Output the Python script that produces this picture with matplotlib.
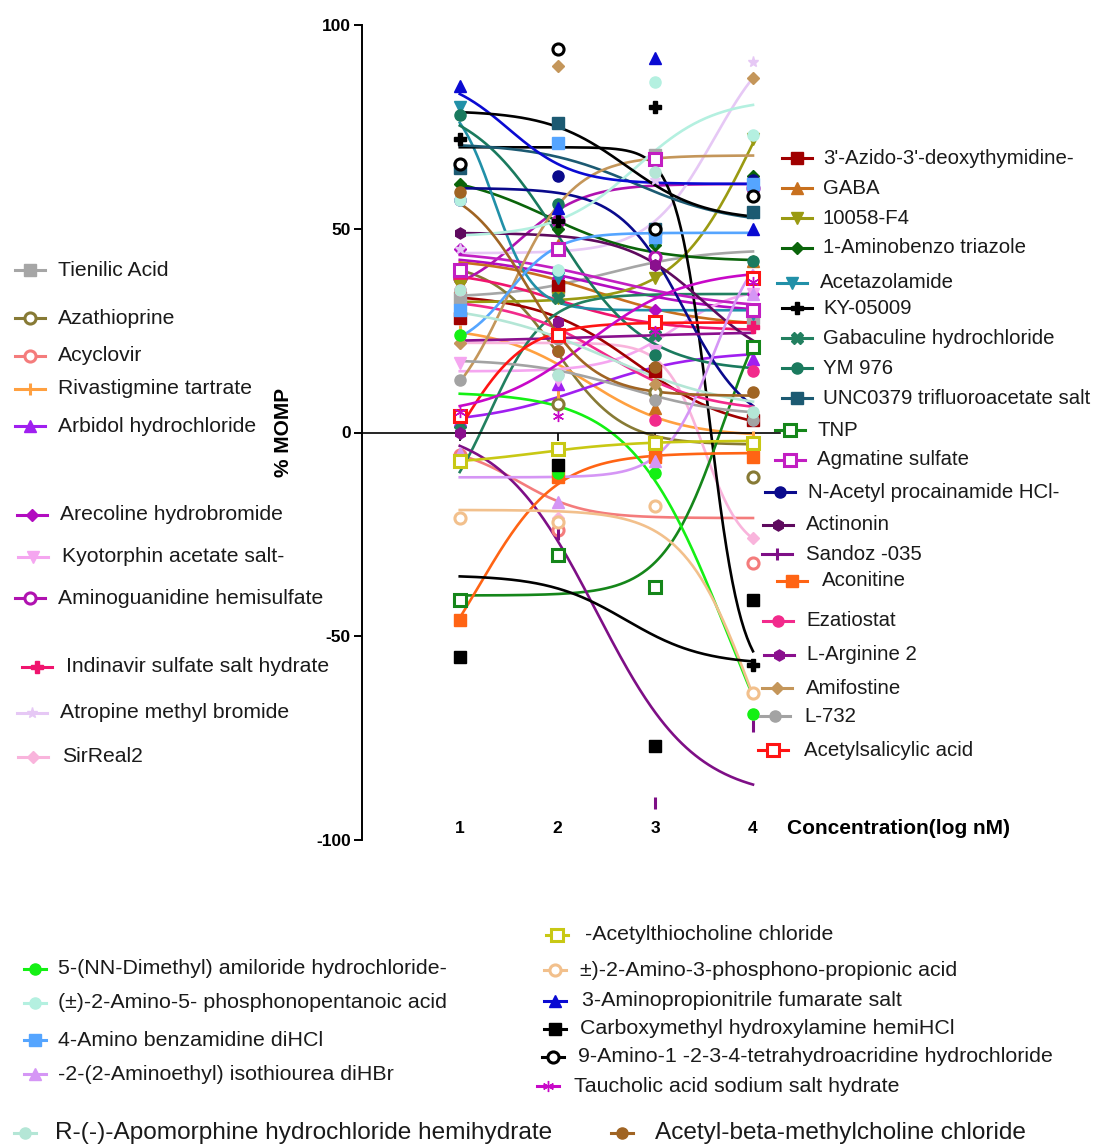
import numpy as np
import matplotlib.pyplot as plt
from matplotlib.lines import Line2D

plt.rcParams['font.family'] = ['Liberation Sans', 'DejaVu Sans']
plt.rcParams['axes.unicode_minus'] = False

# concentrations (log nM)
conc = [1, 2, 3, 4]

names = [
    'Tienilic Acid', 'Azathioprine', 'Acyclovir', 'Rivastigmine tartrate',
    'Arbidol hydrochloride', 'Arecoline hydrobromide', 'Kyotorphin acetate salt-',
    'Aminoguanidine hemisulfate', 'Indinavir sulfate salt hydrate',
    'Atropine methyl bromide', 'SirReal2',
    "3'-Azido-3'-deoxythymidine-", 'GABA', '10058-F4', '1-Aminobenzo triazole',
    'Acetazolamide', 'KY-05009', 'Gabaculine hydrochloride', 'YM 976',
    'UNC0379 trifluoroacetate salt', 'TNP', 'Agmatine sulfate',
    'N-Acetyl procainamide HCl-', 'Actinonin', 'Sandoz -035', 'Aconitine',
    'Ezatiostat', 'L-Arginine 2', 'Amifostine', 'L-732', 'Acetylsalicylic acid',
    '5-(NN-Dimethyl) amiloride hydrochloride-',
    '(±)-2-Amino-5- phosphonopentanoic acid', '4-Amino benzamidine diHCl',
    '-2-(2-Aminoethyl) isothiourea diHBr',
    '-Acetylthiocholine chloride', '±)-2-Amino-3-phosphono-propionic acid',
    '3-Aminopropionitrile fumarate salt', 'Carboxymethyl hydroxylamine hemiHCl',
    '9-Amino-1 -2-3-4-tetrahydroacridine hydrochloride',
    'Taucholic acid sodium salt hydrate',
    'R-(-)-Apomorphine hydrochloride hemihydrate',
    'Acetyl-beta-methylcholine chloride',
]

colors = [
    '#a6a6a6', '#877a35', '#f47c7c', '#ffa040', '#a01ff0', '#b20cc0', '#f5a6f0',
    '#b012b0', '#f0146e', '#e6c8f5', '#f9b4dc',
    '#a00000', '#c8701e', '#9a9a12', '#0a640a', '#2190a8', '#000000', '#228060',
    '#1a7a5e', '#1c5a72', '#15861a', '#c21ec2', '#0a0a8c', '#5e0a5e', '#7e0f86',
    '#ff6414', '#f22a8c', '#8a108e', '#c4965a', '#a3a3a3', '#ff1414',
    '#14f014', '#b4f0e0', '#55a5ff', '#d596f5',
    '#c8c814', '#f2c08c', '#0a0ad2', '#000000', '#000000', '#c808c8',
    '#b4e6d6', '#a06423',
]

markers = [
    's', 'o', 'o', '|', '^', 'D', 'v', 'o', 'P', '*', 'D',
    's', '^', 'v', 'D', 'v', 'P', 'X', 'o', 's', 's', 's', 'o', 'h', '|',
    's', 'o', 'h', 'D', 'o', 's',
    'o', 'o', 's', '^',
    's', 'o', '^', 's', 'o', (6, 2, 0),
    'o', 'o',
]

hollow = [
    False, True, True, False, False, False, False, True, False, False, False,
    False, False, False, False, False, False, False, False, False, True, True,
    False, False, False, False, False, False, False, False, True,
    False, False, False, False,
    True, True, False, False, True, False,
    False, False,
]

# % MOMP at each concentration
momp = [
    [33, 35, 68, 28], [38, 7, 10, -11], [-5.5, -24, -6, -32], [25, 10, -2, -1],
    [3, 12, 16, 18], [45, 38, 30, 34], [17, 13, 20, 34], [38, 52, 43, 60],
    [38, 24, 27, 26], [45, 40, 62, 91], [22, -21, 8, -26],
    [28, 36, 15, 3], [36, 46, 6, 42], [36, 33, 38, 72], [61, 50, 46, 63],
    [80, 38, 47, 29], [72, 52, 80, -57], [2, 33, 24, 30], [78, 56, 19, 42],
    [65, 76, 50, 54], [-41, -30, -38, 21], [40, 45, 67, 30], [57, 63, 50, 62],
    [49, 27, 41, 3], [0, -25, -91, -72], [-46, -11, -6, -6], [35, 20, 3, 15],
    [0, 27, 41, 3], [22, 90, 12, 87], [13, 23, 8, 3], [4, 24, 27, 38],
    [24, -10, -10, -69], [57, 40, 86, 73], [30, 71, 48, 61], [-5, -17, -7, 34],
    [-7, -4, -2.5, -2.5], [-21, -22, -18, -64], [85, 55, 92, 50],
    [-55, -8, -77, -41], [66, 94, 50, 58], [5, 4, 25, 37],
    [35, 14, 64, 5], [59, 20, 16, 10],
]

# sigmoidal fit per compound: low-dose plateau, high-dose plateau, midpoint, slope
fit_left = [33, 42, -3, 26, 2, 44, 15, 33, 40, 44, 22,
            34, 43, 32, 64, 84, 70, -25, 82, 71, -40, 45, 60, 49, 2, -70, 33, 22, 0, 18, -25,
            10, 48, 20, -11, -8, -19, 88, -35, 79, 4, 32, 62]
fit_right = [45, -3, -21, -1, 20, 29, 36, 61, 25, 100, -30,
             0, 26, 110, 42, 30, -62, 34, 15, 51, 45, 30, 0, 15, -90, -5, 5, 25, 68, 4, 27,
             -110, 82, 49, 50, -2, -110, 61, -57, 52, 40, 5, 9]
fit_mid = [2.5, 2.0, 1.6, 2.3, 2.3, 2.4, 3.2, 1.6, 2.0, 3.6, 3.5,
           2.8, 2.4, 4.0, 1.9, 1.35, 3.55, 1.3, 2.0, 2.8, 3.7, 2.5, 3.3, 3.5, 2.4, 1.2, 2.5, 2.5,
           1.5, 2.7, 1.0, 3.75, 2.8, 1.5, 3.6, 1.8, 4.0, 1.5, 2.7, 2.7, 2.3, 2.5, 1.7]
fit_slope = [2, 3, 3, 2.2, 1.8, 1.5, 3, 3, 2, 3, 5,
             2, 1.8, 2.5, 2, 5, 6, 3.5, 2.2, 2, 3.2, 1.5, 3, 2.5, 2, 2.5, 2, 1, 3, 2, 3,
             2, 2.5, 4, 4, 2, 2.8, 3, 2.5, 2.5, 2, 1.5, 3]

# legend entries: symbol centre x, row y, text x (pixels)
legend_layout = [
    (30, 270, 58), (30, 318, 58), (30, 356, 58), (30, 389, 58), (30, 426, 58),
    (32, 515, 60), (33, 557, 62), (30, 598, 58), (37, 667, 66), (32, 713, 60),
    (33, 757, 62),
    (797, 158, 823), (797, 188, 823), (797, 218, 823), (797, 248, 823),
    (792, 283, 820), (797, 308, 823), (797, 338, 823), (797, 368, 823),
    (797, 398, 823), (790, 430, 818), (790, 460, 817), (780, 492, 808),
    (778, 525, 806), (777, 554, 806), (792, 581, 822), (778, 621, 806),
    (779, 655, 807), (777, 688, 806), (775, 716, 804), (773, 750, 804),
    (35, 969, 58), (35, 1003, 58), (35, 1040, 58), (35, 1074, 58),
    (557, 935, 585), (555, 970, 580), (555, 1001, 582), (555, 1029, 580),
    (553, 1057, 578), (548, 1086, 574),
    (25, 1133, 55), (622, 1133, 655),
]
legend_font = [15.2] * 11 + [14.7] * 20 + [15.4] * 10 + [17.6, 17.6]

W, H = 1103, 1146
fig = plt.figure(figsize=(W / 100, H / 100), dpi=100)
ax = fig.add_axes([362 / W, 306 / H, 418 / W, 815 / H])

xs = np.linspace(1, 4, 200)
for i in range(len(names)):
    ys = fit_right[i] + (fit_left[i] - fit_right[i]) / (1 + np.exp(fit_slope[i] * (xs - fit_mid[i])))
    ax.plot(xs, ys, color=colors[i], lw=1.9, zorder=2)

for i in range(len(names)):
    ms = 6.5 if markers[i] == 'D' else 8
    ax.plot(conc, momp[i], ls='none', marker=markers[i], ms=ms,
            color=colors[i], mfc='white' if hollow[i] else colors[i],
            mew=2.2 if hollow[i] or markers[i] == '|' else 1, zorder=3)

ax.set_xlim(0, 418 / 97.75)
ax.set_ylim(-100, 100)
ax.spines['top'].set_visible(False)
ax.spines['right'].set_visible(False)
ax.spines['bottom'].set_position(('data', 0))
ax.spines['left'].set_linewidth(1.4)
ax.spines['bottom'].set_linewidth(1.2)
ax.set_yticks([-100, -50, 0, 50, 100])
ax.set_xticks(conc)
ax.set_xticklabels([])
ax.tick_params(axis='y', direction='out', length=6, width=1.4, pad=2, labelsize=12.5)
ax.tick_params(axis='x', direction='out', length=6, width=1.2)
for lab in ax.get_yticklabels():
    lab.set_fontweight('bold')
for c in conc:
    ax.text(c, -97.2, str(c), ha='center', va='center', fontsize=12.5, fontweight='bold')

ax.set_ylabel('% MOMP', fontsize=15, fontweight='bold')
ax.yaxis.set_label_coords(-0.165, 0.5)
fig.text(787 / W, 1 - 829 / H, 'Concentration(log nM)', ha='left', va='center',
         fontsize=15, fontweight='bold')

# hand-placed legend blocks around the plot
for i, (mx, my, tx) in enumerate(legend_layout):
    half = 11 if my > 900 else 15
    fy = 1 - my / H
    ms = 6.5 if markers[i] == 'D' else 8
    fig.add_artist(Line2D([(mx - half) / W, mx / W, (mx + half) / W], [fy] * 3,
                          color=colors[i], lw=2.2, marker=markers[i], ms=ms,
                          mfc='white' if hollow[i] else colors[i],
                          mew=2.2 if hollow[i] or markers[i] == '|' else 1,
                          markevery=[1], transform=fig.transFigure))
    fig.text(tx / W, fy, names[i], ha='left', va='center', fontsize=legend_font[i],
             color='#1a1a1a')

fig.savefig('out.png', dpi=100)
